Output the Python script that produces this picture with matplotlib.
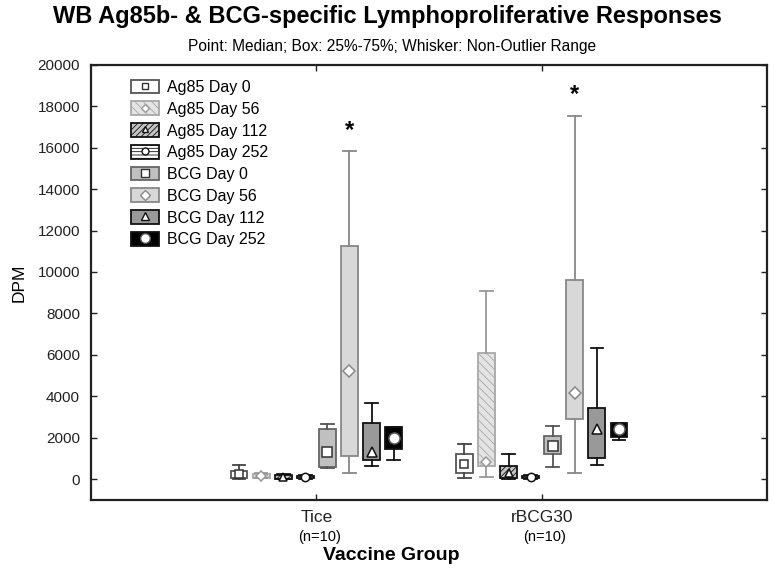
import matplotlib
matplotlib.use("Agg")
import matplotlib.pyplot as plt
from matplotlib.patches import Patch
from matplotlib.lines import Line2D
from matplotlib.transforms import blended_transform_factory

plt.rcParams['font.family'] = ['Liberation Sans', 'DejaVu Sans']
plt.rcParams['hatch.linewidth'] = 0.6

groups = ["Tice", "rBCG30"]
group_n = ["(n=10)", "(n=10)"]
series = ["Ag85 Day 0", "Ag85 Day 56", "Ag85 Day 112", "Ag85 Day 252",
          "BCG Day 0", "BCG Day 56", "BCG Day 112", "BCG Day 252"]

# [whisker low, Q1, median, Q3, whisker high] per series, per group
tice = [
    [30, 80, 250, 400, 700],
    [40, 80, 150, 250, 300],
    [10, 30, 130, 200, 250],
    [10, 50, 100, 150, 200],
    [560, 580, 1330, 2410, 2650],
    [290, 1125, 5220, 11230, 15820],
    [625, 915, 1330, 2710, 3660],
    [915, 1450, 1975, 2500, 2500],
]
rbcg30 = [
    [60, 300, 720, 1200, 1720],
    [110, 630, 820, 6100, 9100],
    [10, 50, 290, 630, 1200],
    [10, 50, 110, 180, 230],
    [580, 1200, 1590, 2070, 2550],
    [290, 2890, 4140, 9590, 17540],
    [675, 1010, 2410, 3420, 6330],
    [1880, 2040, 2410, 2710, 2710],
]
data = [tice, rbcg30]
significant = ["BCG Day 56"]

face = ['#ffffff', '#e4e4e4', '#c4c4c4', '#ffffff', '#c0c0c0', '#d8d8d8', '#999999', '#000000']
edge = ['#555555', '#a8a8a8', '#111111', '#111111', '#666666', '#888888', '#111111', '#111111']
hatch = [None, '\\\\\\\\', '//////', '-----', None, None, None, None]
wcol = ['#444444', '#999999', '#111111', '#111111', '#555555', '#888888', '#111111', '#111111']
mk = ['s', 'D', '^', 'o', 's', 'D', '^', 'o']
msz = [6, 5, 6, 6, 7, 6, 7, 8]
mec = ['#333333', '#999999', '#111111', '#111111', '#333333', '#888888', '#111111', '#555555']

fig = plt.figure(figsize=(7.74, 5.71), dpi=100)
ax = fig.add_axes([91/774, 1-500/571, 676/774, 435.3/571])

step = 0.098
bw = 0.075
for g, gdata in enumerate(data):
    for i, st in enumerate(gdata):
        pos = g + 1 + (i - 3.5) * step
        stats = [dict(whislo=st[0], q1=st[1], med=st[2], q3=st[3], whishi=st[4])]
        ax.bxp(stats, positions=[pos], widths=bw, patch_artist=True,
               showfliers=False, capwidths=bw*0.75,
               boxprops=dict(facecolor=face[i], edgecolor=edge[i], linewidth=1.3, hatch=hatch[i]),
               whiskerprops=dict(color=wcol[i], linewidth=1.3),
               capprops=dict(color=wcol[i], linewidth=1.3),
               medianprops=dict(linewidth=0))
        ax.plot([pos], [st[2]], marker=mk[i], markersize=msz[i], mfc='white',
                mec=mec[i], mew=1.1, linestyle='none', zorder=5)
        if series[i] in significant:
            ax.text(pos, st[4] + 450, "*", ha='center', va='bottom',
                    fontsize=17, fontweight='bold')

ax.set_xlim(0, 3)
ax.set_ylim(-1000, 20000)
ax.set_yticks(range(0, 20001, 2000))
ax.set_xticks([1, 2])
ax.set_xticklabels(groups)
ax.tick_params(axis='both', direction='in', length=4, width=1, top=True, right=True,
               labelsize=11, colors='#222222')
ax.tick_params(axis='x', labelsize=12.5, pad=7)
ax.tick_params(axis='y', pad=8)
for s in ax.spines.values():
    s.set_linewidth(1.6)
    s.set_color('#222222')

tr = blended_transform_factory(ax.transData, ax.transAxes)
for g, n in enumerate(group_n):
    ax.text(g + 1 + 0.015, -0.068, n, transform=tr, ha='center', va='top', fontsize=10.5)

ax.set_ylabel("DPM", fontsize=12.5, labelpad=8)
fig.text(0.5 + 4/774, 1-555/571, "Vaccine Group", ha='center', va='center',
         fontsize=14, fontweight='bold')
fig.text(0.5, 1-17/571, "WB Ag85b- & BCG-specific Lymphoproliferative Responses",
         ha='center', va='center', fontsize=17, fontweight='bold')
fig.text(0.5 + 5/774, 1-46/571, "Point: Median; Box: 25%-75%; Whisker: Non-Outlier Range",
         ha='center', va='center', fontsize=11.2)

handles = []
for i in range(8):
    p = Patch(facecolor=face[i], edgecolor=edge[i], hatch=hatch[i], linewidth=1.3)
    m = Line2D([], [], marker=mk[i], markersize=msz[i]-1, mfc='white', mec=mec[i],
               mew=1.0, linestyle='none')
    handles.append((p, m))
ax.legend(handles, series, loc='upper left', bbox_to_anchor=(0.04, 0.995),
          frameon=False, fontsize=11.5, handlelength=1.75, handleheight=0.95,
          labelspacing=0.4, handletextpad=0.5, borderpad=0.3)

fig.savefig("out.png", dpi=100)
